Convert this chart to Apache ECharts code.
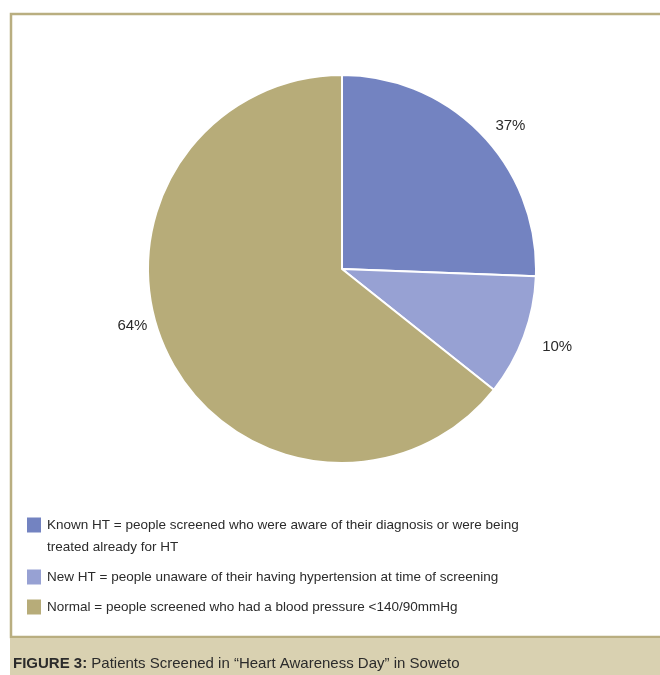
<!DOCTYPE html>
<html>
<head>
<meta charset="utf-8">
<script src="https://cdn.jsdelivr.net/npm/echarts@6/dist/echarts.min.js"></script>
<style>
  html, body { margin: 0; padding: 0; background: #fff; }
  #chart { width: 660px; height: 675px; }
</style>
</head>
<body>
<div id="chart"></div>
<script>
// slice sizes as drawn (share of the circle)
const categories = ['Known HT', 'New HT', 'Normal'];
const sliceValues = [25.6, 10.1, 64.3];
// labels as printed on the figure
const sliceLabels = ['37%', '10%', '64%'];
const descriptions = [
  'Known HT = people screened who were aware of their diagnosis or were being\ntreated already for HT',
  'New HT = people unaware of their having hypertension at time of screening',
  'Normal = people screened who had a blood pressure <140/90mmHg'
];
const colors = ['#7383c1', '#97a1d3', '#b7ac79'];

const FONT = '"Liberation Sans", Arial, sans-serif';

const chart = echarts.init(document.getElementById('chart'), null, { renderer: 'canvas' });

const pieData = sliceValues.map((v, i) => ({
  value: v,
  name: categories[i],
  itemStyle: { color: colors[i] }
}));
// nudge the printed labels to where the figure has them
pieData[1].label = { offset: [2, 6] };
pieData[2].label = { offset: [-4, -33] };

const option = {
  animation: false,
  backgroundColor: '#ffffff',
  color: colors,
  title: {
    text: '{b|FIGURE 3:} Patients Screened in \u201cHeart Awareness Day\u201d in Soweto',
    left: 13,
    top: 656,
    padding: 0,
    textStyle: {
      fontFamily: FONT,
      fontSize: 15,
      fontWeight: 'normal',
      color: '#2b2b2b',
      rich: {
        b: { fontFamily: FONT, fontSize: 15, fontWeight: 'bold', color: '#2b2b2b' }
      }
    }
  },
  legend: {
    orient: 'vertical',
    left: 25,
    top: 492,
    padding: 0,
    itemWidth: 16,
    itemHeight: 17,
    itemGap: 8,
    icon: 'rect',
    selectedMode: false,
    data: categories,
    // leading empty line keeps the first text line level with its swatch
    formatter: name => {
      const d = descriptions[categories.indexOf(name)];
      return d.indexOf('\n') >= 0 ? ' \n' + d : d;
    },
    textStyle: {
      fontFamily: FONT,
      fontSize: 13.5,
      lineHeight: 22,
      color: '#2b2b2b'
    }
  },
  graphic: [
    {
      type: 'rect',
      silent: true,
      shape: { x: 11, y: 14, width: 680, height: 623 },
      style: { fill: 'none', stroke: '#b9ae80', lineWidth: 2.5 }
    },
    {
      type: 'rect',
      silent: true,
      shape: { x: 10, y: 638, width: 660, height: 40 },
      style: { fill: '#d9d1b1' }
    }
  ],
  series: [
    {
      type: 'pie',
      center: [342, 269],
      radius: 194,
      startAngle: 90,
      clockwise: true,
      avoidLabelOverlap: false,
      data: pieData,
      itemStyle: { borderColor: '#ffffff', borderWidth: 2 },
      label: {
        position: 'outside',
        fontFamily: FONT,
        fontSize: 15,
        color: '#2b2b2b',
        formatter: p => sliceLabels[p.dataIndex]
      },
      labelLine: { show: false, length: 12, length2: 0 }
    }
  ]
};

chart.setOption(option);
</script>
</body>
</html>
